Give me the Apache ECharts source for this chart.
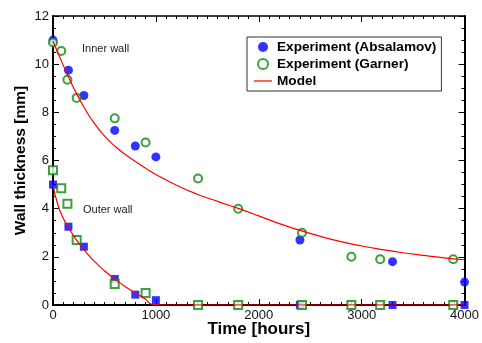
<!DOCTYPE html>
<html>
<head>
    <meta charset="utf-8">
    <title>Wall thickness</title>
    <script src="https://cdn.jsdelivr.net/npm/echarts@6/dist/echarts.min.js"></script>
    <style>
        body { margin: 0; background: #fff; }
    </style>
</head>
<body>
    <div id="main" style="width: 482px;height:343px;"></div>
    <script type="text/javascript">
        // inner wall, Absalamov (filled circles)
        var absInnerT = [0, 150, 300, 600, 800, 1000, 2400, 3300, 4000];
        var absInnerW = [11.0, 9.75, 8.7, 7.25, 6.6, 6.15, 2.7, 1.8, 0.95];
        // inner wall, Garner (open circles)
        var garInnerT = [0, 80, 140, 230, 600, 900, 1410, 1800, 2420, 2900, 3180, 3890];
        var garInnerW = [10.9, 10.55, 9.35, 8.6, 7.75, 6.75, 5.25, 4.0, 3.0, 2.0, 1.9, 1.9];
        // outer wall, Absalamov (filled squares)
        var absOuterT = [0, 150, 300, 600, 800, 1000, 2400, 3300, 4000];
        var absOuterW = [5.0, 3.25, 2.42, 1.08, 0.43, 0.2, 0, 0, 0];
        // outer wall, Garner (open squares)
        var garOuterT = [0, 80, 140, 230, 600, 900, 1410, 1800, 2420, 2900, 3180, 3890];
        var garOuterW = [5.6, 4.85, 4.2, 2.7, 0.87, 0.5, 0, 0, 0, 0, 0, 0];
        // model curves
        var modelInnerT = [0, 100, 200, 300, 400, 500, 600, 700, 800, 900, 1000, 1200, 1400, 1600, 1800, 2000, 2200, 2400, 2600, 2800, 3000, 3200, 3400, 3600, 3800, 4000];
        var modelInnerW = [10.95, 9.95, 9.02, 8.22, 7.55, 7.02, 6.6, 6.26, 5.96, 5.68, 5.42, 4.97, 4.6, 4.3, 4.01, 3.7, 3.38, 3.1, 2.85, 2.63, 2.45, 2.3, 2.17, 2.06, 1.96, 1.88];
        var modelOuterT = [0, 50, 100, 150, 200, 250, 300, 400, 500, 600, 700, 800, 900, 960, 1100, 4000];
        var modelOuterW = [4.98, 4.12, 3.6, 3.2, 2.88, 2.57, 2.3, 1.82, 1.42, 1.08, 0.77, 0.5, 0.24, 0.03, 0, 0];

        var xTicks = { min: 0, max: 4000, interval: 1000 };
        var yTicks = { min: 0, max: 12, interval: 2 };

        var BLUE = '#0000ff', GREEN = '#0a8a0a', RED = '#ff0000';
        var FONT = 'Liberation Sans, Arial, sans-serif';

        function pairs(t, w) {
            var out = [];
            for (var i = 0; i < t.length; i++) out.push([t[i], w[i]]);
            return out;
        }

        function axisCommon(extra) {
            var a = {
                type: 'value',
                axisLine: { show: true, onZero: false, lineStyle: { color: '#000', width: 2 } },
                axisTick: { show: true, inside: true, length: 6, lineStyle: { color: '#000', width: 1 } },
                splitLine: { show: false },
                axisLabel: { fontSize: 13, color: '#111', fontFamily: FONT, margin: 4,
                    formatter: function (v) { return String(v); } }
            };
            for (var k in extra) a[k] = extra[k];
            return a;
        }

        var myChart = echarts.init(document.getElementById('main'));
        var option = {
            animation: false,
            backgroundColor: '#fff',
            grid: { left: 53, right: 16, top: 16, bottom: 38 },
            xAxis: [
                axisCommon({ min: xTicks.min, max: xTicks.max, interval: xTicks.interval, position: 'bottom',
                    minorTick: { show: true, splitNumber: 10, length: 3, lineStyle: { color: '#000' } },
                    name: 'Time [hours]', nameLocation: 'middle', nameGap: 16, nameMoveOverlap: false,
                    nameTextStyle: { fontSize: 17, fontWeight: 'bold', color: '#000', fontFamily: FONT } }),
                axisCommon({ min: xTicks.min, max: xTicks.max, interval: xTicks.interval, position: 'top',
                    minorTick: { show: true, splitNumber: 10, length: 3, lineStyle: { color: '#000' } },
                    axisLabel: { show: false }, axisLine: { show: true, onZero: false, lineStyle: { color: '#000', width: 1.5 } } })
            ],
            yAxis: [
                axisCommon({ min: yTicks.min, max: yTicks.max, interval: yTicks.interval, position: 'left',
                    minorTick: { show: true, splitNumber: 4, length: 3, lineStyle: { color: '#000' } },
                    name: 'Wall thickness [mm]', nameLocation: 'middle', nameGap: 24, nameMoveOverlap: false,
                    nameTextStyle: { fontSize: 15.5, fontWeight: 'bold', color: '#000', fontFamily: FONT } }),
                axisCommon({ min: yTicks.min, max: yTicks.max, interval: yTicks.interval, position: 'right',
                    minorTick: { show: true, splitNumber: 4, length: 3, lineStyle: { color: '#000' } },
                    axisLabel: { show: false } })
            ],
            legend: {
                orient: 'vertical',
                left: 247,
                top: 37,
                borderColor: '#333',
                borderWidth: 1,
                padding: [3, 5, 3, 6],
                itemGap: 3,
                itemWidth: 18,
                itemHeight: 10,
                textStyle: { fontSize: 13.6, fontWeight: 'bold', color: '#000', fontFamily: FONT },
                data: [
                    { name: 'Experiment (Absalamov)', icon: 'circle' },
                    { name: 'Experiment (Garner)', icon: 'emptyCircle' },
                    { name: 'Model', itemStyle: { opacity: 0 }, lineStyle: { width: 2, color: '#ff6060' } }
                ]
            },
            graphic: [
                { type: 'text', left: 82, top: 43, style: { text: 'Inner wall', font: '11px ' + FONT, fill: '#222' } },
                { type: 'text', left: 83, top: 204, style: { text: 'Outer wall', font: '11px ' + FONT, fill: '#222' } }
            ],
            series: [
                { name: 'Experiment (Absalamov)', type: 'scatter', clip: false, symbol: 'circle', symbolSize: 9,
                  itemStyle: { color: BLUE }, data: pairs(absInnerT, absInnerW) },
                { name: 'Experiment (Absalamov)', type: 'scatter', clip: false, symbol: 'rect', symbolSize: 8,
                  itemStyle: { color: BLUE }, data: pairs(absOuterT, absOuterW) },
                { name: 'Experiment (Garner)', type: 'scatter', clip: false, symbol: 'emptyCircle', symbolSize: 8,
                  itemStyle: { color: GREEN, borderColor: GREEN, borderWidth: 1.3 }, data: pairs(garInnerT, garInnerW) },
                { name: 'Experiment (Garner)', type: 'scatter', clip: false, symbol: 'emptyRect', symbolSize: 8,
                  itemStyle: { color: GREEN, borderColor: GREEN, borderWidth: 1.3 }, data: pairs(garOuterT, garOuterW) },
                { name: 'Model', type: 'line', symbol: 'none', showSymbol: false, smooth: true,
                  lineStyle: { color: RED, width: 1.2 }, itemStyle: { color: RED }, data: pairs(modelInnerT, modelInnerW) },
                { name: 'Model', type: 'line', symbol: 'none', showSymbol: false, smooth: true,
                  lineStyle: { color: RED, width: 1.2 }, itemStyle: { color: RED }, data: pairs(modelOuterT, modelOuterW) }
            ]
        };
        myChart.setOption(option);
    </script>
</body>
</html>
